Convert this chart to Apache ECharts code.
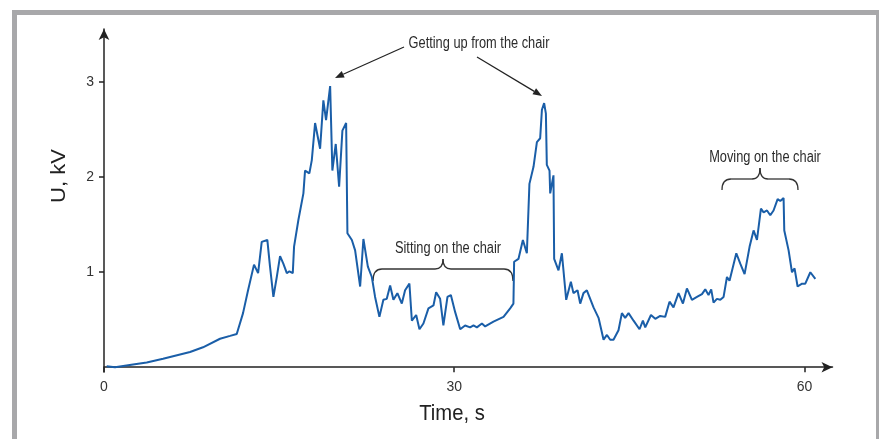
<!DOCTYPE html>
<html>
<head>
<meta charset="utf-8">
<script src="https://cdn.jsdelivr.net/npm/echarts@6/dist/echarts.min.js"></script>
<style>
  html, body { margin: 0; padding: 0; background: #fff; }
  #chart { width: 879px; height: 439px; }
</style>
</head>
<body>
<div id="chart"></div>
<script>
// time, s
const times = [0.23, 0.94, 2.49, 3.66, 5.06, 7.37, 8.48, 9.94, 10.80, 11.37, 11.91, 12.34, 12.85, 13.20, 13.51, 13.99,
  14.22, 14.51, 14.80, 15.08, 15.36, 15.66, 15.88, 16.17, 16.28, 16.65, 17.08, 17.22, 17.59, 17.80, 18.08, 18.51,
  18.79, 19.02, 19.37, 19.56, 19.85, 20.14, 20.42, 20.74, 20.85, 21.23, 21.51, 21.94, 22.22, 22.60, 22.94, 23.22,
  23.59, 23.93, 24.22, 24.51, 24.79, 25.13, 25.51, 25.79, 26.16, 26.37, 26.74, 27.02, 27.36, 27.79, 28.22, 28.45,
  28.79, 29.07, 29.42, 29.71, 30.08, 30.51, 30.93, 31.36, 31.65, 31.94, 32.37, 32.65, 33.36, 34.22, 34.79, 35.07,
  35.13, 35.50, 35.88, 36.22, 36.44, 36.79, 37.08, 37.36, 37.51, 37.70, 37.85, 37.93, 38.16, 38.22, 38.50, 38.56,
  38.93, 39.22, 39.59, 39.99, 40.21, 40.56, 40.79, 41.07, 41.36, 41.93, 42.36, 42.79, 43.08, 43.36, 43.64, 44.07,
  44.36, 44.64, 44.93, 45.36, 45.87, 46.16, 46.36, 46.85, 47.22, 47.64, 48.07, 48.44, 48.78, 49.21, 49.59, 49.93,
  50.36, 50.79, 51.22, 51.50, 51.78, 52.01, 52.21, 52.50, 52.79, 53.07, 53.36, 53.58, 54.16, 54.50, 54.87, 55.30,
  55.64, 55.93, 56.27, 56.50, 56.79, 57.07, 57.35, 57.70, 57.93, 58.21, 58.27, 58.64, 58.93, 59.15, 59.41, 59.79,
  60.07, 60.50, 60.93]
// U, kV
const volts = [0.01, 0.00, 0.03, 0.05, 0.09, 0.16, 0.21, 0.30, 0.33, 0.35, 0.57, 0.81, 1.08, 0.99, 1.32, 1.34,
  1.06, 0.74, 0.95, 1.17, 1.09, 0.99, 1.01, 0.99, 1.27, 1.55, 1.83, 2.07, 2.04, 2.18, 2.57, 2.30,
  2.81, 2.60, 2.96, 2.07, 2.35, 1.90, 2.49, 2.57, 1.41, 1.34, 1.23, 0.85, 1.35, 1.06, 0.95, 0.74,
  0.53, 0.71, 0.72, 0.86, 0.71, 0.78, 0.67, 0.81, 0.88, 0.49, 0.55, 0.40, 0.46, 0.62, 0.65, 0.79,
  0.72, 0.44, 0.74, 0.76, 0.58, 0.40, 0.44, 0.42, 0.44, 0.42, 0.46, 0.43, 0.48, 0.53, 0.62, 0.67,
  1.11, 1.14, 1.34, 1.20, 1.93, 2.11, 2.37, 2.41, 2.71, 2.78, 2.67, 2.13, 2.07, 1.83, 2.02, 1.14,
  1.02, 1.20, 0.71, 0.90, 0.78, 0.81, 0.67, 0.78, 0.81, 0.63, 0.52, 0.29, 0.34, 0.29, 0.29, 0.39,
  0.57, 0.52, 0.57, 0.49, 0.40, 0.49, 0.42, 0.55, 0.51, 0.54, 0.53, 0.69, 0.63, 0.78, 0.67, 0.83,
  0.71, 0.74, 0.77, 0.82, 0.76, 0.82, 0.68, 0.72, 0.71, 0.74, 0.95, 0.91, 1.20, 1.09, 0.98, 1.27,
  1.44, 1.34, 1.67, 1.63, 1.65, 1.60, 1.65, 1.77, 1.75, 1.78, 1.44, 1.23, 1.00, 1.04, 0.85, 0.88,
  0.88, 1.00, 0.93]

const xTicks = [0, 30, 60]
const yTicks = [1, 2, 3]

const font = "'Liberation Sans', Arial, sans-serif"
const ink = '#222'
const gray = '#a8a8aa'

// little arrow head at the end of a pointer line
function arrow(x1, y1, x2, y2) {
  const dx = x2 - x1, dy = y2 - y1
  const len = Math.sqrt(dx * dx + dy * dy)
  const ux = dx / len, uy = dy / len
  const bx = x2 - ux * 9, by = y2 - uy * 9
  return [
    { type: 'line', shape: { x1: x1, y1: y1, x2: bx, y2: by }, style: { stroke: ink, lineWidth: 1.2 } },
    {
      type: 'polygon',
      shape: { points: [[x2, y2], [bx - uy * 3.5, by + ux * 3.5], [bx + uy * 3.5, by - ux * 3.5]] },
      style: { fill: ink }
    }
  ]
}

// curly brace: left end, right end, bottom of the ends, flat line, tip
function brace(xl, xr, yEnd, yFlat, yTip) {
  const xm = (xl + xr) / 2
  const st = { stroke: '#333', lineWidth: 1.3, fill: null }
  const r = 9
  return [
    { type: 'bezierCurve', shape: { x1: xl, y1: yEnd, cpx1: xl, cpy1: yFlat, x2: xl + r, y2: yFlat }, style: st },
    { type: 'line', shape: { x1: xl + r, y1: yFlat, x2: xm - 8, y2: yFlat }, style: st },
    { type: 'bezierCurve', shape: { x1: xm - 8, y1: yFlat, cpx1: xm, cpy1: yFlat, x2: xm, y2: yTip }, style: st },
    { type: 'bezierCurve', shape: { x1: xm, y1: yTip, cpx1: xm, cpy1: yFlat, x2: xm + 8, y2: yFlat }, style: st },
    { type: 'line', shape: { x1: xm + 8, y1: yFlat, x2: xr - r, y2: yFlat }, style: st },
    { type: 'bezierCurve', shape: { x1: xr - r, y1: yFlat, cpx1: xr, cpy1: yFlat, x2: xr, y2: yEnd }, style: st }
  ]
}

// narrow-looking label (the original uses a condensed face)
function label(text, x, y) {
  return {
    type: 'text', x: x, y: y, scaleX: 0.8,
    style: { text: text, font: '16px ' + font, fill: '#2b2b2b', align: 'center', verticalAlign: 'middle' }
  }
}

const chart = echarts.init(document.getElementById('chart'))
chart.setOption({
  animation: false,
  backgroundColor: '#fff',
  grid: { left: 104, right: 46.5, top: 29, bottom: 67 },
  xAxis: {
    type: 'value',
    min: 0,
    max: 62.4,
    splitLine: { show: false },
    axisLine: { lineStyle: { color: ink, width: 1.5 }, symbol: ['none', 'arrow'], symbolSize: [8, 11] },
    axisTick: { customValues: xTicks, length: 5, lineStyle: { color: ink, width: 1.5 } },
    axisLabel: { customValues: xTicks, margin: 8, color: '#333', fontFamily: font, fontSize: 14 }
  },
  yAxis: {
    type: 'value',
    min: -0.05,
    max: 3.56,
    splitLine: { show: false },
    axisLine: { show: true, lineStyle: { color: ink, width: 1.5 }, symbol: ['none', 'arrow'], symbolSize: [8, 11] },
    axisTick: { show: true, customValues: yTicks, length: 5, lineStyle: { color: ink, width: 1.5 } },
    axisLabel: { customValues: yTicks, margin: 10, color: '#333', fontFamily: font, fontSize: 14 }
  },
  series: [{
    type: 'line',
    data: times.map((t, i) => [t, volts[i]]),
    showSymbol: false,
    lineStyle: { color: '#1a5ea8', width: 2 }
  }],
  graphic: [
    // frame
    { type: 'rect', shape: { x: 12, y: 10, width: 867, height: 5 }, style: { fill: gray }, silent: true },
    { type: 'rect', shape: { x: 12, y: 10, width: 5, height: 429 }, style: { fill: gray }, silent: true },
    { type: 'rect', shape: { x: 876, y: 10, width: 3, height: 429 }, style: { fill: gray }, silent: true },
    // axis names
    {
      type: 'text', x: 452, y: 414, scaleX: 0.92,
      style: { text: 'Time, s', font: '22px ' + font, fill: '#222', align: 'center', verticalAlign: 'middle' }
    },
    {
      type: 'text', x: 59, y: 176, rotation: Math.PI / 2, scaleY: 0.92,
      style: { text: 'U, kV', font: '22px ' + font, fill: '#222', align: 'center', verticalAlign: 'middle' }
    },
    // annotations
    label('Getting up from the chair', 479, 44),
    ...arrow(404, 47, 335, 78),
    ...arrow(477, 57, 542, 96),
    label('Sitting on the chair', 448, 249),
    ...brace(373, 513, 281, 269, 259),
    label('Moving on the chair', 765, 158),
    ...brace(722, 798, 190, 179, 168)
  ]
})
</script>
</body>
</html>
